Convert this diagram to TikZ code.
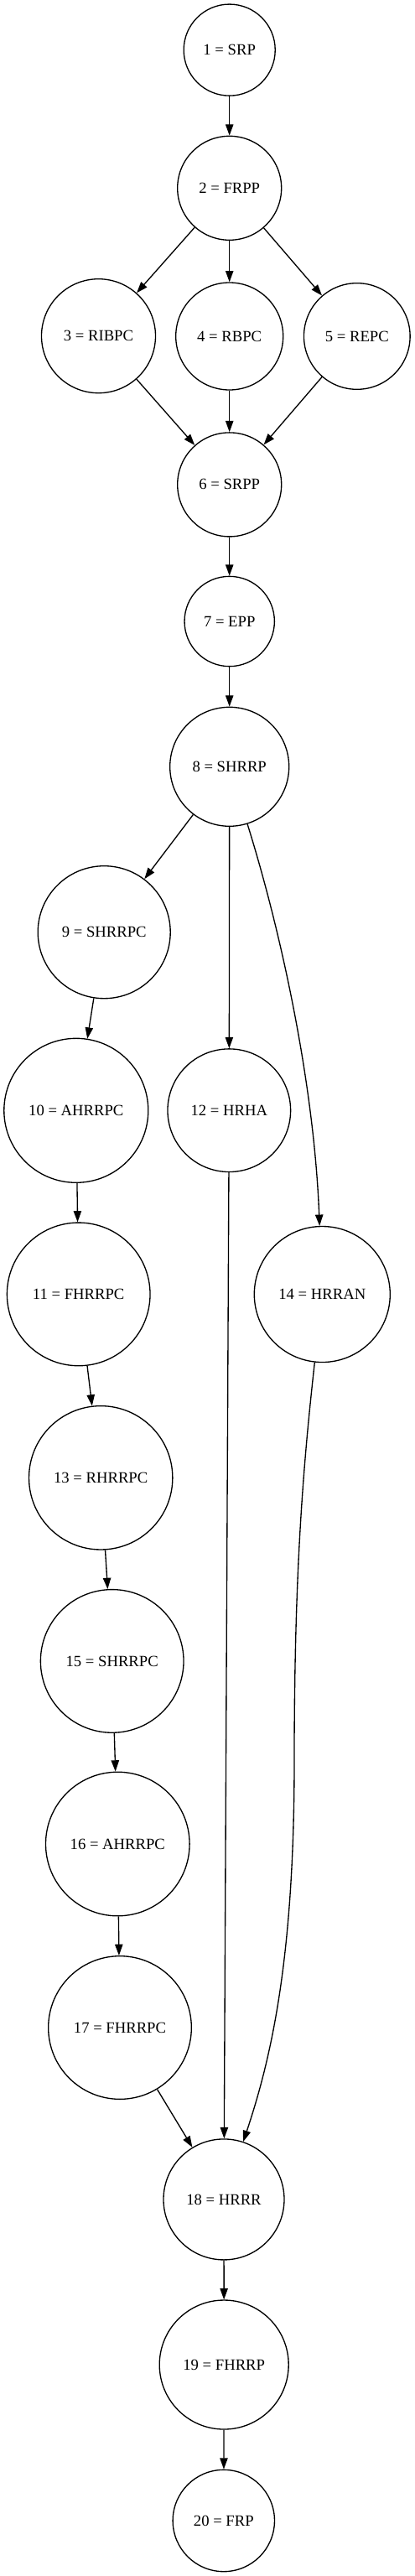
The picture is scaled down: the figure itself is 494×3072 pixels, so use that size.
\documentclass[tikz,border=0pt]{standalone}
\usepackage{fontspec}
\setmainfont{Liberation Serif}
\usetikzlibrary{arrows.meta}
\begin{document}
\begin{tikzpicture}[x=0.75pt,y=-0.75pt,
 state/.style={circle,draw,line width=1pt,inner sep=0pt,font=\fontsize{14pt}{16pt}\selectfont},
 edge/.style={line width=1pt,-{Triangle[length=10pt,width=7pt]}}]
 \useasboundingbox (0,0) rectangle (494,3072);
 \node[state,minimum size=81.8pt] (n1) at (273.7,59.6) {1 = SRP};
 \node[state,minimum size=93pt] (n2) at (273.7,224.3) {2 = FRPP};
 \node[state,minimum size=102pt] (n3) at (117.5,400.7) {3 = RIBPC};
 \node[state,minimum size=96pt] (n4) at (273.7,401) {4 = RBPC};
 \node[state,minimum size=95pt] (n5) at (425.8,401) {5 = REPC};
 \node[state,minimum size=93pt] (n6) at (273.7,577.9) {6 = SRPP};
 \node[state,minimum size=80.5pt] (n7) at (273.7,741) {7 = EPP};
 \node[state,minimum size=106.5pt] (n8) at (273.7,914.3) {8 = SHRRP};
 \node[state,minimum size=118.5pt] (n9) at (124.2,1111.7) {9 = SHRRPC};
 \node[state,minimum size=129pt] (n10) at (90.8,1324.3) {10 = AHRRPC};
 \node[state,minimum size=128pt] (n11) at (93.7,1543.4) {11 = FHRRPC};
 \node[state,minimum size=110pt] (n12) at (273.3,1324.2) {12 = HRHA};
 \node[state,minimum size=128.5pt] (n13) at (120.2,1762.3) {13 = RHRRPC};
 \node[state,minimum size=121.5pt] (n14) at (384.3,1543.5) {14 = HRRAN};
 \node[state,minimum size=128pt] (n15) at (133.7,1980.9) {15 = SHRRPC};
 \node[state,minimum size=128.7pt] (n16) at (140.3,2199) {16 = AHRRPC};
 \node[state,minimum size=128pt] (n17) at (143,2418) {17 = FHRRPC};
 \node[state,minimum size=108pt] (n18) at (267,2622.9) {18 = HRRR};
 \node[state,minimum size=115.5pt] (n19) at (267.2,2820) {19 = FHRRP};
 \node[state,minimum size=91pt] (n20) at (266.8,3006) {20 = FRP};
 \draw[edge] (n1) -- (n2);
 \draw[edge] (n2) -- (n3);
 \draw[edge] (n2) -- (n4);
 \draw[edge] (n2) -- (n5);
 \draw[edge] (n3) -- (n6);
 \draw[edge] (n4) -- (n6);
 \draw[edge] (n5) -- (n6);
 \draw[edge] (n6) -- (n7);
 \draw[edge] (n7) -- (n8);
 \draw[edge] (n8) -- (n9);
 \draw[edge] (n8) -- (n12);
 \draw[edge] (n8) .. controls (338,1120) and (375,1300) .. (n14);
 \draw[edge] (n9) -- (n10);
 \draw[edge] (n10) -- (n11);
 \draw[edge] (n11) -- (n13);
 \draw[edge] (n13) -- (n15);
 \draw[edge] (n15) -- (n16);
 \draw[edge] (n16) -- (n17);
 \draw[edge] (n17) -- (n18);
 \draw[edge] (n12) -- (n18);
 \draw[edge] (n14) .. controls (362,1745) and (351,1870) .. (351,2100) .. controls (351,2330) and (325,2450) .. (n18);
 \draw[edge] (n18) -- (n19);
 \draw[edge] (n19) -- (n20);
\end{tikzpicture}
\end{document}
